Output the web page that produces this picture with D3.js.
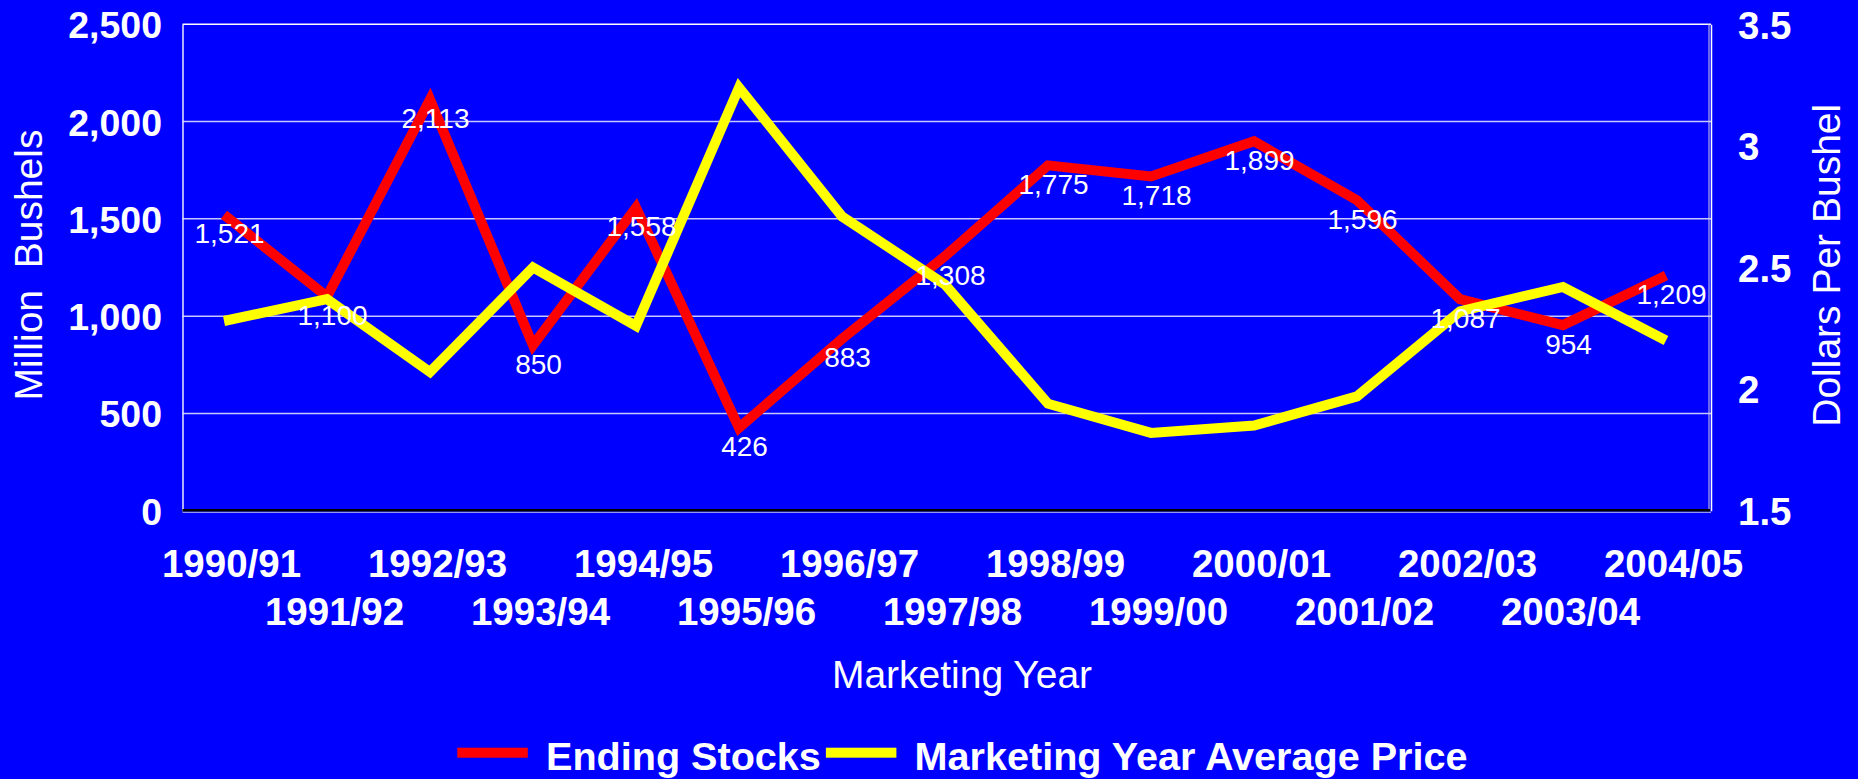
<!DOCTYPE html>
<html><head><meta charset="utf-8">
<script src="https://cdn.jsdelivr.net/npm/d3@7"></script>
<style>
html,body{margin:0;padding:0;background:#0000ff;overflow:hidden}
text{font-family:"Liberation Sans",Arial,Helvetica,sans-serif;fill:#ffffff}
</style>
</head><body>
<svg id="c" width="1858" height="779"></svg>
<script>
const categories = ["1990/91","1991/92","1992/93","1993/94","1994/95","1995/96","1996/97","1997/98","1998/99","1999/00","2000/01","2001/02","2002/03","2003/04","2004/05"];
const endingStocks = [1521,1100,2113,850,1558,426,883,1308,1775,1718,1899,1596,1087,954,1209];
const avgPrice = [2.28,2.37,2.07,2.50,2.26,3.24,2.71,2.43,1.94,1.82,1.85,1.97,2.32,2.42,2.20];
const leftTicks = [0,500,1000,1500,2000,2500];
const rightTicks = [1.5,2,2.5,3,3.5];
const seriesNames = ["Ending Stocks","Marketing Year Average Price"];
const seriesColors = ["#ff0000","#ffff00"];

const W = 1858, H = 779;
const plot = {left:182.5, right:1711, top:24.3, bottom:510.7};
const svg = d3.select("#c");
svg.append("rect").attr("width",W).attr("height",H).attr("fill","#0000ff");

const x = d3.scalePoint().domain(categories).range([224,1666]);
const yL = d3.scaleLinear().domain([0,2500]).range([plot.bottom, plot.top]);
const yR = d3.scaleLinear().domain([1.5,3.5]).range([plot.bottom, plot.top]);

// gridlines
svg.append("g").selectAll("line").data(leftTicks.filter(d=>d>0)).join("line")
  .attr("x1",plot.left).attr("x2",plot.right)
  .attr("y1",d=>yL(d)).attr("y2",d=>yL(d))
  .attr("stroke",d=>d===2500?"#ffffff":"#c8c8ff").attr("stroke-width",1.5);

// left axis
const gL = svg.append("g").attr("transform",`translate(${plot.left},0)`)
  .call(d3.axisLeft(yL).tickValues(leftTicks).tickFormat(d3.format(",")).tickSize(0).tickPadding(20.5));
gL.select(".domain").attr("stroke","#e8e8ff").attr("stroke-width",1.5);
gL.selectAll(".tick text").attr("fill","#fff").attr("font-size",37.5).attr("font-weight","bold").attr("dy","0.36em");

// right axis
const gR = svg.append("g").attr("transform",`translate(${plot.right},0)`)
  .call(d3.axisRight(yR).tickValues(rightTicks).tickFormat(d=>String(d)).tickSize(0).tickPadding(27));
gR.select(".domain").attr("stroke","#ffffff").attr("stroke-width",1.5);
gR.selectAll(".tick text").attr("fill","#fff").attr("font-size",38.5).attr("font-weight","bold").attr("dy","0.36em");
svg.append("line").attr("x1",plot.right-2).attr("x2",plot.right-2).attr("y1",plot.top).attr("y2",plot.bottom)
  .attr("stroke","#d0d0e0").attr("stroke-width",1);

// bottom border
svg.append("line").attr("x1",plot.left).attr("x2",plot.right).attr("y1",plot.bottom+1.5).attr("y2",plot.bottom+1.5)
  .attr("stroke","#d8d8e8").attr("stroke-width",1);
svg.append("line").attr("x1",plot.left).attr("x2",plot.right-1).attr("y1",plot.bottom-0.5).attr("y2",plot.bottom-0.5)
  .attr("stroke","#000000").attr("stroke-width",2.5);

// bottom axis (two staggered rows)
const gB = svg.append("g").attr("transform",`translate(0,${plot.bottom})`)
  .call(d3.axisBottom(x).tickSize(0).tickPadding(0));
gB.select(".domain").remove();
gB.selectAll(".tick text")
  .attr("x",7).attr("dy",null)
  .attr("y",(d,i)=> i%2===0 ? 66 : 114.3)
  .attr("fill","#fff").attr("font-size",38.5).attr("font-weight","bold");

// lines
const lineGen = (scale) => d3.line().x((d,i)=>x(categories[i])).y(d=>scale(d));
svg.append("path").attr("d", lineGen(yL)(endingStocks))
  .attr("fill","none").attr("stroke",seriesColors[0]).attr("stroke-width",10)
  .attr("stroke-linejoin","miter").attr("stroke-linecap","butt");
svg.append("path").attr("d", lineGen(yR)(avgPrice))
  .attr("fill","none").attr("stroke",seriesColors[1]).attr("stroke-width",10)
  .attr("stroke-linejoin","miter").attr("stroke-linecap","butt");

// data labels
svg.append("g").selectAll("text").data(endingStocks).join("text")
  .attr("x",(d,i)=>x(categories[i])+5.5)
  .attr("y",d=>yL(d)+28.5)
  .attr("text-anchor","middle").attr("font-size",28)
  .text(d=>d3.format(",")(d));

// axis titles
svg.append("text").attr("transform","translate(41.7,265) rotate(-90)")
  .attr("text-anchor","middle").attr("font-size",39).style("white-space","pre")
  .text("Million  Bushels");
svg.append("text").attr("transform","translate(1840,265.3) rotate(-90)")
  .attr("text-anchor","middle").attr("font-size",39)
  .text("Dollars Per Bushel");
svg.append("text").attr("x",962).attr("y",688.3)
  .attr("text-anchor","middle").attr("font-size",39)
  .text("Marketing Year");

// legend
const lg = svg.append("g");
let lx = 457.3;
seriesNames.forEach((name,i)=>{
  lg.append("rect").attr("x",lx).attr("y",747.7).attr("width",70.5).attr("height",10).attr("fill",seriesColors[i]);
  lx += 70.5 + 18.2;
  const t = lg.append("text").attr("x",lx).attr("y",770).attr("font-size",39.6).attr("font-weight","bold").text(name);
  lx += t.node().getComputedTextLength() + 5;
});
</script>
</body></html>
